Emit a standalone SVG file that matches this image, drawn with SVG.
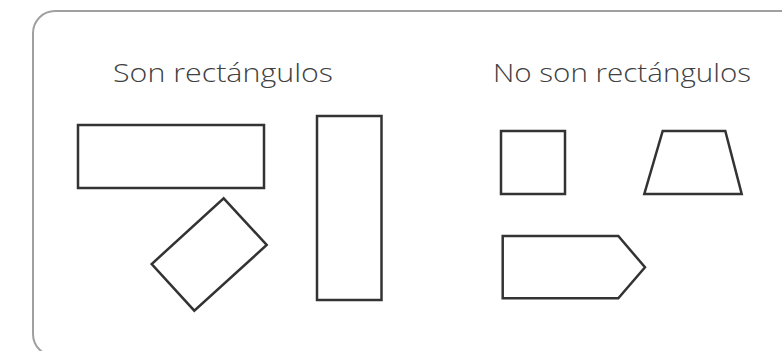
<svg xmlns="http://www.w3.org/2000/svg" width="782" height="351" viewBox="0 0 782 351">
<style>
.frame{fill:none;stroke:#a0a0a0;stroke-width:2}
.shape{fill:#fff;stroke:#333;stroke-width:2.5;stroke-linejoin:miter}
.title{font-family:"Open Sans","Liberation Sans",sans-serif;font-size:26px;font-weight:300;fill:#404040}
</style>
<rect width="782" height="351" fill="#fff"/>
<rect class="frame" x="33" y="11" width="780" height="345" rx="22" ry="22"/>
<g id="label-son">
<text class="title" x="113" y="82" textLength="220" lengthAdjust="spacingAndGlyphs">Son rectángulos</text>
</g>
<g id="label-noson">
<text class="title" x="493" y="82" textLength="258" lengthAdjust="spacingAndGlyphs">No son rectángulos</text>
</g>
<g id="rect-wide"><rect class="shape" x="78" y="125" width="186" height="63"/></g>
<g id="rect-tall"><rect class="shape" x="317" y="116" width="64.5" height="184"/></g>
<g id="rect-rotated"><polygon class="shape" points="223.7,198.3 266.7,245 194.3,310.7 151.7,264"/></g>
<g id="square"><rect class="shape" x="501" y="131" width="64" height="63"/></g>
<g id="trapezoid"><polygon class="shape" points="662.7,131 725.3,131 741.7,194 644.3,194"/></g>
<g id="pentagon"><polygon class="shape" points="502.7,236 618.3,236 645,267.3 618.3,298.3 502.7,298.3"/></g>
<g id="connectors"></g>
</svg>
